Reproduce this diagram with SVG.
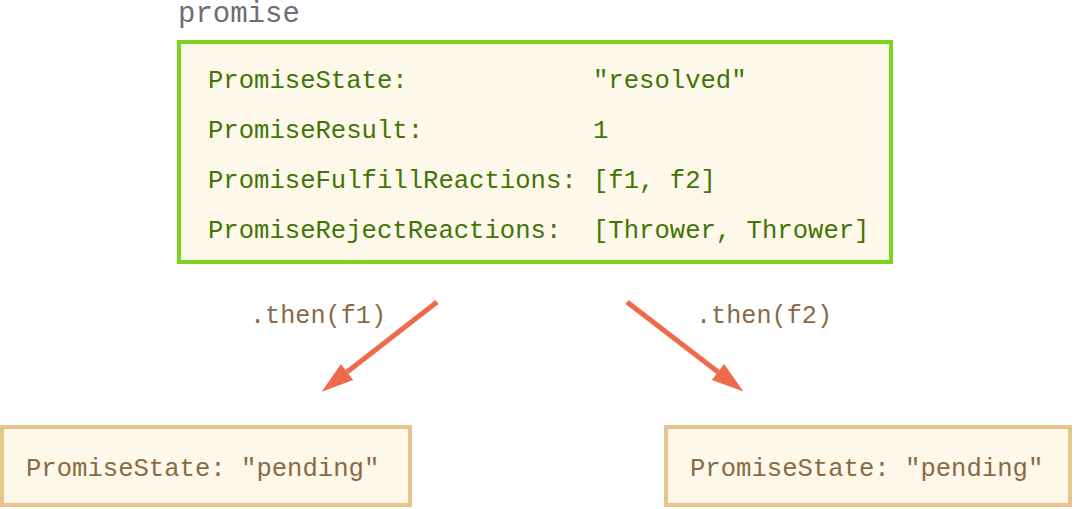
<svg xmlns="http://www.w3.org/2000/svg" width="1076" height="509" viewBox="0 0 1076 509">
<style>
.mono{font-family:"Liberation Mono","DejaVu Sans Mono",monospace;}
.main{font-size:25.6px;fill:#417505;}
.brown{font-size:25.6px;fill:#8a6a44;}
.lbl{font-size:25.2px;fill:#8a6a44;}
.title{font-size:29px;fill:#6b6f76;}
.box{fill:#fef8ea;stroke:#7ed321;stroke-width:4;}
.sbox{fill:#fef8ea;stroke:#e8c48d;stroke-width:4;}
.arrow{stroke:#ee6a4a;stroke-width:5;fill:none;}
</style>
<defs>
<marker id="ah" markerWidth="7" markerHeight="5" refX="0" refY="2" orient="auto" markerUnits="strokeWidth" overflow="visible">
<path d="M0,0 L6.4,2 L0,4 Z" fill="#ee6a4a"/>
</marker>
</defs>
<g id="promise">
<text class="mono title" x="178" y="22">promise</text>
<rect class="box" x="179" y="42" width="712" height="220"/>
<text class="mono main" x="208" y="88">PromiseState:</text>
<text class="mono main" x="593" y="88">"resolved"</text>
<text class="mono main" x="208" y="138">PromiseResult:</text>
<text class="mono main" x="593" y="138">1</text>
<text class="mono main" x="208" y="188">PromiseFulfillReactions:</text>
<text class="mono main" x="593" y="188">[f1, f2]</text>
<text class="mono main" x="208" y="238">PromiseRejectReactions:</text>
<text class="mono main" x="593" y="238">[Thrower, Thrower]</text>
</g>
<g id="connectors">
<line class="arrow" x1="437" y1="302" x2="347" y2="372" marker-end="url(#ah)"/>
<line class="arrow" x1="627" y1="302" x2="718" y2="372" marker-end="url(#ah)"/>
<text class="mono lbl" x="250" y="323">.then(f1)</text>
<text class="mono lbl" x="696" y="323">.then(f2)</text>
</g>
<g id="pending1">
<rect class="sbox" x="2" y="427" width="408" height="78"/>
<text class="mono brown" x="26" y="476">PromiseState: "pending"</text>
</g>
<g id="pending2">
<rect class="sbox" x="666" y="427" width="404" height="78"/>
<text class="mono brown" x="690" y="476">PromiseState: "pending"</text>
</g>
</svg>
